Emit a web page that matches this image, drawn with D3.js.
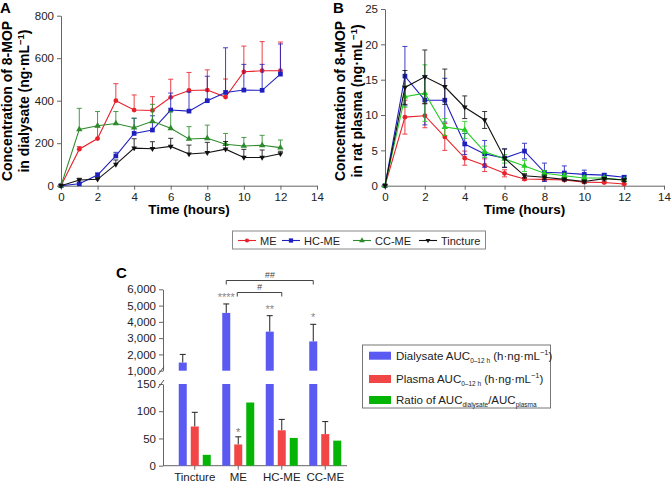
<!DOCTYPE html>
<html lang="en">
<head>
<meta charset="utf-8">
<title>8-MOP</title>
<script src="https://d3js.org/d3.v7.min.js"></script>
<style>
  body { margin: 0; background: #fff; }
  svg { font-family: "Liberation Sans", Arial, sans-serif; }
  .axis path, .axis line { stroke: #666; }
  .axis text { fill: #222; font-size: 11.5px; }
</style>
</head>
<body>
<svg id="chart" width="671" height="483"></svg>
<script>
var time = [0, 1, 2, 3, 4, 5, 6, 7, 8, 9, 10, 11, 12];
var xTicks = [0, 2, 4, 6, 8, 10, 12, 14];

// panel A, dialysate
var dME      = [0, 172, 222, 400, 356, 354, 416, 448, 450, 417, 536, 541, 541];
var dMEerr   = [0, 12, 55, 80, 71, 65, 85, 85, 95, 85, 121, 137, 135];
var dHC      = [0, 9, 50, 140, 246, 262, 356, 351, 400, 439, 450, 449, 525];
var dHCerr   = [0, 5, 10, 17, 71, 67, 80, 90, 115, 210, 121, 122, 142];
var dCC      = [0, 265, 282, 293, 273, 303, 270, 220, 223, 195, 187, 190, 179];
var dCCerr   = [0, 99, 67, 56, 45, 80, 79, 58, 62, 51, 40, 47, 36];
var dTin     = [0, 27, 30, 100, 177, 174, 185, 149, 155, 172, 133, 133, 150];
var dTinerr  = [0, 8, 8, 21, 44, 33, 38, 42, 49, 36, 38, 35, 12];

// panel B, plasma
var pME      = [0, 9.7, 9.9, 6.9, 3.9, 2.9, 1.75, 0.95, 0.9, 0.8, 0.5, 0.45, 0.25];
var pMEerr   = [0, 2.4, 1.7, 1.9, 1.0, 0.9, 0.5, 0.2, 0.2, 0.15, 0.15, 0.1, 0.1];
var pHC      = [0, 15.5, 12.1, 12.1, 5.9, 4.5, 3.9, 4.9, 1.9, 1.8, 1.6, 1.5, 1.2];
var pHCerr   = [0, 4.2, 3.5, 3.1, 1.5, 1.9, 1.3, 1.1, 1.3, 1.0, 0.6, 0.2, 0.2];
var pCC      = [0, 12.6, 13.1, 8.3, 7.9, 4.8, 3.8, 2.8, 1.75, 1.4, 1.1, 1.1, 0.8];
var pCCerr   = [0, 1.5, 4.0, 1.2, 1.2, 0.8, 0.6, 0.8, 0.4, 0.3, 0.3, 0.2, 0.2];
var pTin     = [0, 13.9, 15.4, 14.0, 11.1, 9.3, 3.9, 1.4, 1.2, 0.9, 0.6, 1.0, 0.8];
var pTinerr  = [0, 2.4, 3.8, 2.5, 1.6, 1.2, 1.3, 0.3, 0.3, 0.2, 0.2, 0.2, 0.2];

// panel C
var cats       = ["Tincture", "ME", "HC-ME", "CC-ME"];
var aucDial    = [1500, 4550, 3400, 2800];
var aucDialErr = [500, 550, 980, 1050];
var aucPlasma  = [72, 39, 65, 58];
var aucPlErr   = [26, 14, 20, 23];
var aucRatio   = [20, 116, 51, 46];
var sigDial    = ["", "****", "**", "*"];
var sigPlasma  = ["", "*", "", ""];
var upperTicks = [1000, 2000, 3000, 4000, 5000, 6000];
var lowerTicks = [0, 50, 100, 150];

var svg = d3.select("#chart");

var groups = [
  {name: "ME",       color: "#e8212b", sym: d3.symbolCircle,   size: 18},
  {name: "HC-ME",    color: "#1f1fbf", sym: d3.symbolSquare,   size: 22},
  {name: "CC-ME",    color: "#2d8a2d", sym: d3.symbolTriangle, size: 18},
  {name: "Tincture", color: "#111111", sym: d3.symbolTriangle, size: 14, down: true}
];

function linePanel(opt) {
  var x = d3.scaleLinear().domain([0, 14]).range([opt.x0, opt.x1]);
  var y = d3.scaleLinear().domain([0, opt.ymax]).range([185.7, opt.ytop]);
  var g = svg.append("g");

  g.append("g").attr("class", "axis")
    .attr("transform", "translate(0,185.7)")
    .call(d3.axisBottom(x).tickValues(xTicks).tickSize(4).tickSizeOuter(0));
  g.append("g").attr("class", "axis")
    .attr("transform", "translate(" + opt.x0 + ",0)")
    .call(d3.axisLeft(y).tickValues(opt.yTicks).tickSize(4).tickSizeOuter(0));

  opt.series.forEach(function(s, i) {
    var gr = groups[i];
    var col = s.color || gr.color;
    var pts = time.map(function(t, k) { return {t: t, v: s.v[k], e: s.e[k]}; });
    var eb = g.append("g").attr("stroke", col).attr("stroke-width", 1).attr("opacity", 0.85);
    pts.forEach(function(p) {
      if (!p.e) return;
      var lo = opt.both ? y(Math.max(0, p.v - p.e)) : y(p.v);
      eb.append("line").attr("x1", x(p.t)).attr("x2", x(p.t))
        .attr("y1", lo).attr("y2", y(p.v + p.e));
      eb.append("line").attr("x1", x(p.t) - 2.5).attr("x2", x(p.t) + 2.5)
        .attr("y1", y(p.v + p.e)).attr("y2", y(p.v + p.e));
      if (opt.both)
        eb.append("line").attr("x1", x(p.t) - 2.5).attr("x2", x(p.t) + 2.5)
          .attr("y1", lo).attr("y2", lo);
    });
    g.append("path").datum(pts)
      .attr("fill", "none").attr("stroke", col).attr("stroke-width", 1.1)
      .attr("d", d3.line().x(function(d) { return x(d.t); }).y(function(d) { return y(d.v); }));
    g.selectAll(null).data(pts).enter().append("path")
      .attr("d", d3.symbol().type(gr.sym).size(gr.size))
      .attr("fill", col)
      .attr("transform", function(d) {
        return "translate(" + x(d.t) + "," + y(d.v) + ")" + (gr.down ? " rotate(180)" : "");
      });
  });

  svg.append("text").attr("x", opt.lx).attr("y", 13)
    .attr("font-weight", "bold").attr("font-size", 15).text(opt.letter);

  svg.append("text").attr("x", (opt.x0 + opt.x1) / 2).attr("y", 214)
    .attr("text-anchor", "middle").attr("font-weight", "bold").attr("font-size", 13.5)
    .text("Time (hours)");

  var yl = svg.append("text")
    .attr("transform", "translate(" + opt.yLabelX + ",101) rotate(-90)")
    .attr("text-anchor", "middle").attr("font-weight", "bold").attr("font-size", 14);
  yl.append("tspan").attr("x", 0).attr("dy", 0).text("Concentration of 8-MOP");
  var l2 = yl.append("tspan").attr("x", 0).attr("dy", 17).text(opt.line2 + " (ng·mL");
  l2.append("tspan").attr("dy", -5).attr("font-size", 9.5).text("−1");
  l2.append("tspan").attr("dy", 5).text(")");
}

linePanel({
  letter: "A", lx: 0, x0: 61, x1: 317, ymax: 800, ytop: 15.7,
  yTicks: [0, 200, 400, 600, 800], yLabelX: 12, line2: "in dialysate",
  both: false,
  series: [{v: dME, e: dMEerr}, {v: dHC, e: dHCerr}, {v: dCC, e: dCCerr}, {v: dTin, e: dTinerr}]
});

linePanel({
  letter: "B", lx: 333, x0: 385, x1: 664, ymax: 25, ytop: 9,
  yTicks: [0, 5, 10, 15, 20, 25], yLabelX: 345, line2: "in rat plasma",
  both: true,
  series: [{v: pME, e: pMEerr}, {v: pHC, e: pHCerr}, {v: pCC, e: pCCerr, color: "#22cc22"}, {v: pTin, e: pTinerr}]
});

// legend for A/B
var lg = svg.append("g");
lg.append("rect").attr("x", 232.5).attr("y", 231).attr("width", 253).attr("height", 18)
  .attr("fill", "#fff").attr("stroke", "#888");
var legX = [238, 282, 353, 419];
groups.forEach(function(gr, i) {
  var lx = legX[i];
  lg.append("line").attr("x1", lx).attr("x2", lx + 18).attr("y1", 240.5).attr("y2", 240.5)
    .attr("stroke", gr.color).attr("stroke-width", 1.1);
  lg.append("path").attr("d", d3.symbol().type(gr.sym).size(gr.size - 4)())
    .attr("fill", gr.color)
    .attr("transform", "translate(" + (lx + 9) + ",240.5)" + (gr.down ? " rotate(180)" : ""));
  lg.append("text").attr("x", lx + 22).attr("y", 244.5).attr("font-size", 11).attr("fill", "#222")
    .text(gr.name);
});

// panel C
var cx = d3.scaleBand().domain(cats).range([173, 347]);
var keys = ["dial", "plasma", "ratio"];
var sub = d3.scaleBand().domain(keys).range([-16, 16]).paddingInner(1 / 3);
var yU = d3.scaleLinear().domain([1000, 6000]).range([370.7, 289.3]);
var yL = d3.scaleLinear().domain([0, 150]).range([465.7, 384]);
var cBlue = "#5a5af2", cRed = "#f24646", cGreen = "#05b505";
var axC = 163;

var gc = svg.append("g");
gc.append("g").attr("class", "axis").attr("transform", "translate(" + axC + ",0)")
  .call(d3.axisLeft(yU).tickValues(upperTicks).tickSize(4).tickSizeOuter(0).tickFormat(d3.format(",")));
gc.append("g").attr("class", "axis").attr("transform", "translate(" + axC + ",0)")
  .call(d3.axisLeft(yL).tickValues(lowerTicks).tickSize(4).tickSizeOuter(0));
var xa = gc.append("g").attr("class", "axis").attr("transform", "translate(0,465.7)")
  .call(d3.axisBottom(cx).tickSize(4).tickSizeOuter(0));
xa.select(".domain").attr("d", "M" + axC + ",0H347");
xa.selectAll("text").attr("font-size", 11.5);

// break marks
[370.7, 384].forEach(function(yy) {
  gc.append("line").attr("x1", axC - 5).attr("x2", axC + 1).attr("y1", yy + 4).attr("y2", yy - 4)
    .attr("stroke", "#555").attr("stroke-width", 1);
});

function errUp(xc, y0, y1) {
  gc.append("line").attr("x1", xc).attr("x2", xc).attr("y1", y0).attr("y2", y1).attr("stroke", "#222");
  gc.append("line").attr("x1", xc - 3).attr("x2", xc + 3).attr("y1", y1).attr("y2", y1).attr("stroke", "#222");
}

cats.forEach(function(c, i) {
  var mid = cx(c) + cx.bandwidth() / 2;
  var bw = sub.bandwidth();
  // dialysate: lower segment full, upper segment to value
  var xd = mid + sub("dial");
  gc.append("rect").attr("x", xd).attr("width", bw).attr("y", yL(150)).attr("height", yL(0) - yL(150)).attr("fill", cBlue);
  errUp(xd + bw / 2, yU(aucDial[i]), yU(aucDial[i] + aucDialErr[i]));
  gc.append("rect").attr("x", xd).attr("width", bw).attr("y", yU(aucDial[i])).attr("height", yU(1000) - yU(aucDial[i])).attr("fill", cBlue);
  if (sigDial[i])
    gc.append("text").attr("x", xd + bw / 2).attr("y", yU(aucDial[i] + aucDialErr[i]) - 3)
      .attr("text-anchor", "middle").attr("font-size", 11).attr("fill", "#888").text(sigDial[i]);

  var xp = mid + sub("plasma");
  errUp(xp + bw / 2, yL(aucPlasma[i]), yL(aucPlasma[i] + aucPlErr[i]));
  gc.append("rect").attr("x", xp).attr("width", bw).attr("y", yL(aucPlasma[i])).attr("height", yL(0) - yL(aucPlasma[i])).attr("fill", cRed);
  if (sigPlasma[i])
    gc.append("text").attr("x", xp + bw / 2).attr("y", yL(aucPlasma[i] + aucPlErr[i]) - 1)
      .attr("text-anchor", "middle").attr("font-size", 11).attr("fill", "#777").text(sigPlasma[i]);

  var xr = mid + sub("ratio");
  gc.append("rect").attr("x", xr).attr("width", bw).attr("y", yL(aucRatio[i])).attr("height", yL(0) - yL(aucRatio[i])).attr("fill", cGreen);
});

// comparison brackets
function bracket(x1, x2, yy, label) {
  gc.append("path").attr("d", "M" + x1 + "," + (yy + 4) + "V" + yy + "H" + x2 + "V" + (yy + 4))
    .attr("fill", "none").attr("stroke", "#444").attr("stroke-width", 1);
  gc.append("text").attr("x", (x1 + x2) / 2).attr("y", yy - 3).attr("text-anchor", "middle")
    .attr("font-size", 9).attr("font-style", "italic").attr("fill", "#444").text(label);
}
var blueMid = function(c) { return cx(c) + cx.bandwidth() / 2 + sub("dial") + sub.bandwidth() / 2; };
bracket(blueMid("ME"), blueMid("CC-ME"), 280.5, "##");
bracket(blueMid("ME") + 11, blueMid("HC-ME") + 12, 292.5, "#");

svg.append("text").attr("x", 116).attr("y", 278).attr("font-weight", "bold").attr("font-size", 15).text("C");

// legend for C
var lc = svg.append("g");
lc.append("rect").attr("x", 362.5).attr("y", 345).attr("width", 188).attr("height", 63)
  .attr("fill", "#fff").attr("stroke", "#777");
var legC = [
  {color: cBlue, main: "Dialysate AUC", sub: "0–12 h", tail: " (h·ng·mL", sup: "−1", end: ")"},
  {color: cRed, main: "Plasma AUC", sub: "0–12 h", tail: " (h·ng·mL", sup: "−1", end: ")"},
  {color: cGreen, main: "Ratio of AUC", sub: "dialysate", tail: "/AUC", sub2: "plasma"}
];
var legCy = [355.7, 379, 400];
legC.forEach(function(d, i) {
  var yy = legCy[i];
  lc.append("rect").attr("x", 369).attr("y", yy - 4).attr("width", 22).attr("height", 8).attr("fill", d.color);
  var t = lc.append("text").attr("x", 396).attr("y", yy + 4).attr("font-size", 11.5).attr("fill", "#222");
  t.append("tspan").text(d.main);
  t.append("tspan").attr("font-size", 6.5).attr("dy", 3).text(d.sub);
  t.append("tspan").attr("dy", -3).text(d.tail);
  if (d.sup) {
    t.append("tspan").attr("font-size", 7.5).attr("dy", -5).text(d.sup);
    t.append("tspan").attr("dy", 5).text(d.end);
  }
  if (d.sub2) t.append("tspan").attr("font-size", 6.5).attr("dy", 3).text(d.sub2);
});
</script>
</body>
</html>
